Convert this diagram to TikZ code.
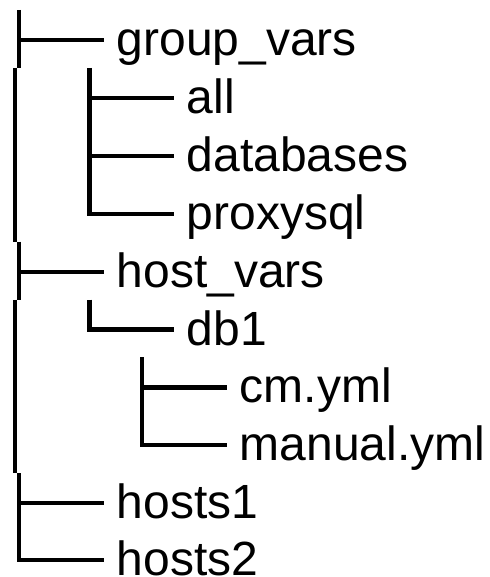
\documentclass[tikz,border=0pt]{standalone}
\usepackage{fontspec}
\setmainfont{Liberation Sans}
\begin{document}
\tikzset{
  branch/.style={line width=4.2pt, line cap=butt, line join=miter},
  entry/.style={anchor=base west, inner sep=0pt, font=\fontsize{48}{58}\selectfont},
}
\begin{tikzpicture}[x=1pt,y=-1pt]
\useasboundingbox (0,0) rectangle (489,577);

% tree columns (x of the tee / corner stems)
\coordinate (c1) at (19.3,0);
\coordinate (c1b) at (15,0);
\coordinate (c2) at (89.5,0);
\coordinate (c3) at (142,0);

% entries, one row every 57.9pt
\node[entry] (gv)     at (116.5, 55.5) {group\_vars};
\node[entry] (all)    at (186.5,113.4) {all};
\node[entry] (dbs)    at (186.5,171.3) {databases};
\node[entry] (proxy)  at (186.5,229.2) {proxysql};
\node[entry] (hv)     at (116.5,287.1) {host\_vars};
\node[entry] (db1)    at (186.5,345.0) {db1};
\node[entry] (cm)     at (239.5,402.9) {cm.yml};
\node[entry] (manual) at (239.5,460.8) {manual.yml};
\node[entry] (h1)     at (116.5,518.7) {hosts1};
\node[entry] (h2)     at (116.5,575.6) {hosts2};

% end points of the branch rules, just left of each entry
\foreach \n in {gv,all,dbs,proxy,hv,db1,cm,manual,h1,h2}
  \coordinate (\n-in) at ([shift={(-12.5,-15.5)}]\n.base west);

% first level
\draw[branch] (c1 |- 0,10) -- (c1 |- 0,67.9);
\draw[branch] (c1b |- 0,67.9) -- (c1b |- 0,241.7);
\draw[branch] (c1 |- 0,241.6) -- (c1 |- 0,299.6);
\draw[branch] (c1b |- 0,299.5) -- (c1b |- 0,473.3);
\draw[branch] (c1 |- 0,473.2) -- (c1 |- 0,531.2);
\draw[branch] (c1 |- gv-in) -- (gv-in);
\draw[branch] (c1 |- hv-in) -- (hv-in);
\draw[branch] (c1 |- h1-in) -- (h1-in);
\draw[branch] (c1 |- 0,531.1) -- (c1 |- h2-in) -- (h2-in);

% group_vars children
\draw[branch] (c2 |- 0,67.9) -- (c2 |- 0,183.8);
\draw[branch] (c2 |- all-in) -- (all-in);
\draw[branch] (c2 |- dbs-in) -- (dbs-in);
\draw[branch] (c2 |- 0,183.7) -- (c2 |- proxy-in) -- (proxy-in);

% host_vars children
\draw[branch] (c2 |- 0,299.5) -- (c2 |- db1-in) -- (db1-in);

% db1 children
\draw[branch] (c3 |- 0,357.4) -- (c3 |- 0,415.4);
\draw[branch] (c3 |- cm-in) -- (cm-in);
\draw[branch] (c3 |- 0,415.3) -- (c3 |- manual-in) -- (manual-in);
\end{tikzpicture}
\end{document}
